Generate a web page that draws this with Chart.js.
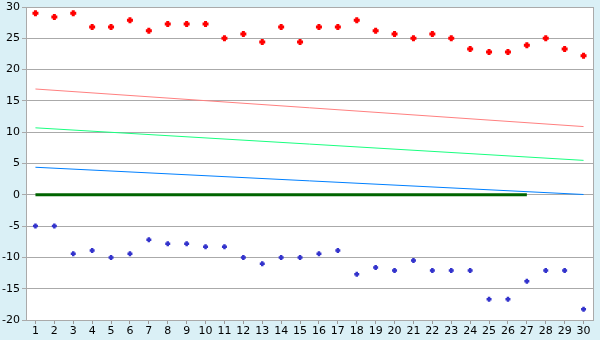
<!DOCTYPE html>
<html>
<head>
<meta charset="utf-8">
<script src="https://cdn.jsdelivr.net/npm/chart.js@4/dist/chart.umd.min.js"></script>
<style>
html,body{margin:0;padding:0;background:#daf0f6;}
#wrap{width:600px;height:340px;}
</style>
</head>
<body>
<div id="wrap"><canvas id="c" width="600" height="340"></canvas></div>
<script>
const categories = ['1','2','3','4','5','6','7','8','9','10','11','12','13','14','15','16','17','18','19','20','21','22','23','24','25','26','27','28','29','30'];
const highValues = [29, 28.4, 29, 26.8, 26.8, 27.9, 26.2, 27.3, 27.3, 27.3, 25, 25.7, 24.4, 26.8, 24.4, 26.8, 26.8, 27.9, 26.2, 25.7, 25, 25.7, 25, 23.3, 22.8, 22.8, 23.9, 25, 23.3, 22.2];
const lowValues = [-5, -5, -9.4, -8.9, -10, -9.4, -7.2, -7.8, -7.8, -8.3, -8.3, -10, -11, -10, -10, -9.4, -8.9, -12.7, -11.6, -12.1, -10.5, -12.1, -12.1, -12.1, -16.7, -16.7, -13.8, -12.1, -12.1, -18.3];
const redTrend = [{x:'1', y:16.9}, {x:'30', y:10.9}];
const greenTrend = [{x:'1', y:10.7}, {x:'30', y:5.5}];
const blueTrend = [{x:'1', y:4.4}, {x:'30', y:0.05}];
const zeroLine = [{x:'1', y:0}, {x:'27', y:0}];
const yTicks = {min:-20, max:30, step:5};

const bgPlugin = {
  id:'bg',
  beforeDraw(chart){
    const {ctx, chartArea:a} = chart;
    ctx.save();
    ctx.fillStyle = '#daf0f6';
    ctx.fillRect(0,0,chart.width,chart.height);
    ctx.fillStyle = '#ffffff';
    ctx.fillRect(a.left, a.top, a.right-a.left, a.bottom-a.top);
    ctx.restore();
  }
};

const font = {family:'"DejaVu Sans", Verdana, sans-serif', size:11};

new Chart(document.getElementById('c'), {
  type:'line',
  data:{
    labels:categories,
    datasets:[
      {data:zeroLine, borderColor:'#006400', borderWidth:3, pointRadius:0, fill:false, order:5},
      {data:blueTrend, borderColor:'#0080ff', borderWidth:1, pointRadius:0, fill:false, order:4},
      {data:greenTrend, borderColor:'#19ff80', borderWidth:1, pointRadius:0, fill:false, order:3},
      {data:redTrend, borderColor:'#ff8080', borderWidth:1, pointRadius:0, fill:false, order:2},
      {data:highValues, showLine:false, pointStyle:'cross', pointRadius:3, pointBorderWidth:3, borderColor:'#ff0000', backgroundColor:'#ff0000', order:1},
      {data:lowValues, showLine:false, pointStyle:'cross', pointRadius:2.5, pointBorderWidth:2.5, borderColor:'#3333cc', backgroundColor:'#3333cc', order:1}
    ]
  },
  plugins:[bgPlugin],
  options:{
    responsive:false,
    animation:false,
    devicePixelRatio:1,
    layout:{padding:{top:5, right:0, bottom:0, left:0}},
    plugins:{legend:{display:false}, tooltip:{enabled:false}},
    elements:{line:{tension:0}},
    scales:{
      x:{
        type:'category',
        offset:true,
        grid:{display:true, drawOnChartArea:false, offset:false, tickLength:4, color:'#999999'},
        border:{display:true, color:'#aaaaaa'},
        ticks:{color:'#000', font:font, padding:1, maxRotation:0, autoSkip:false},
        afterFit(s){ s.height = 20; s.paddingLeft = 0; s.paddingRight = 0; }
      },
      y:{
        position:'left',
        min:yTicks.min, max:yTicks.max,
        grid:{color:'#aaaaaa', tickLength:4, drawTicks:true},
        border:{display:true, color:'#aaaaaa'},
        ticks:{stepSize:yTicks.step, color:'#000', font:font, padding:2},
        afterFit(s){ s.width = 26; s.paddingTop = 0; s.paddingBottom = 0; }
      },
      yR:{
        position:'right',
        min:yTicks.min, max:yTicks.max,
        grid:{drawOnChartArea:false, drawTicks:false},
        border:{display:true, color:'#aaaaaa'},
        ticks:{display:false},
        afterFit(s){ s.width = 5; s.paddingTop = 0; s.paddingBottom = 0; }
      }
    }
  }
});
</script>
</body>
</html>
